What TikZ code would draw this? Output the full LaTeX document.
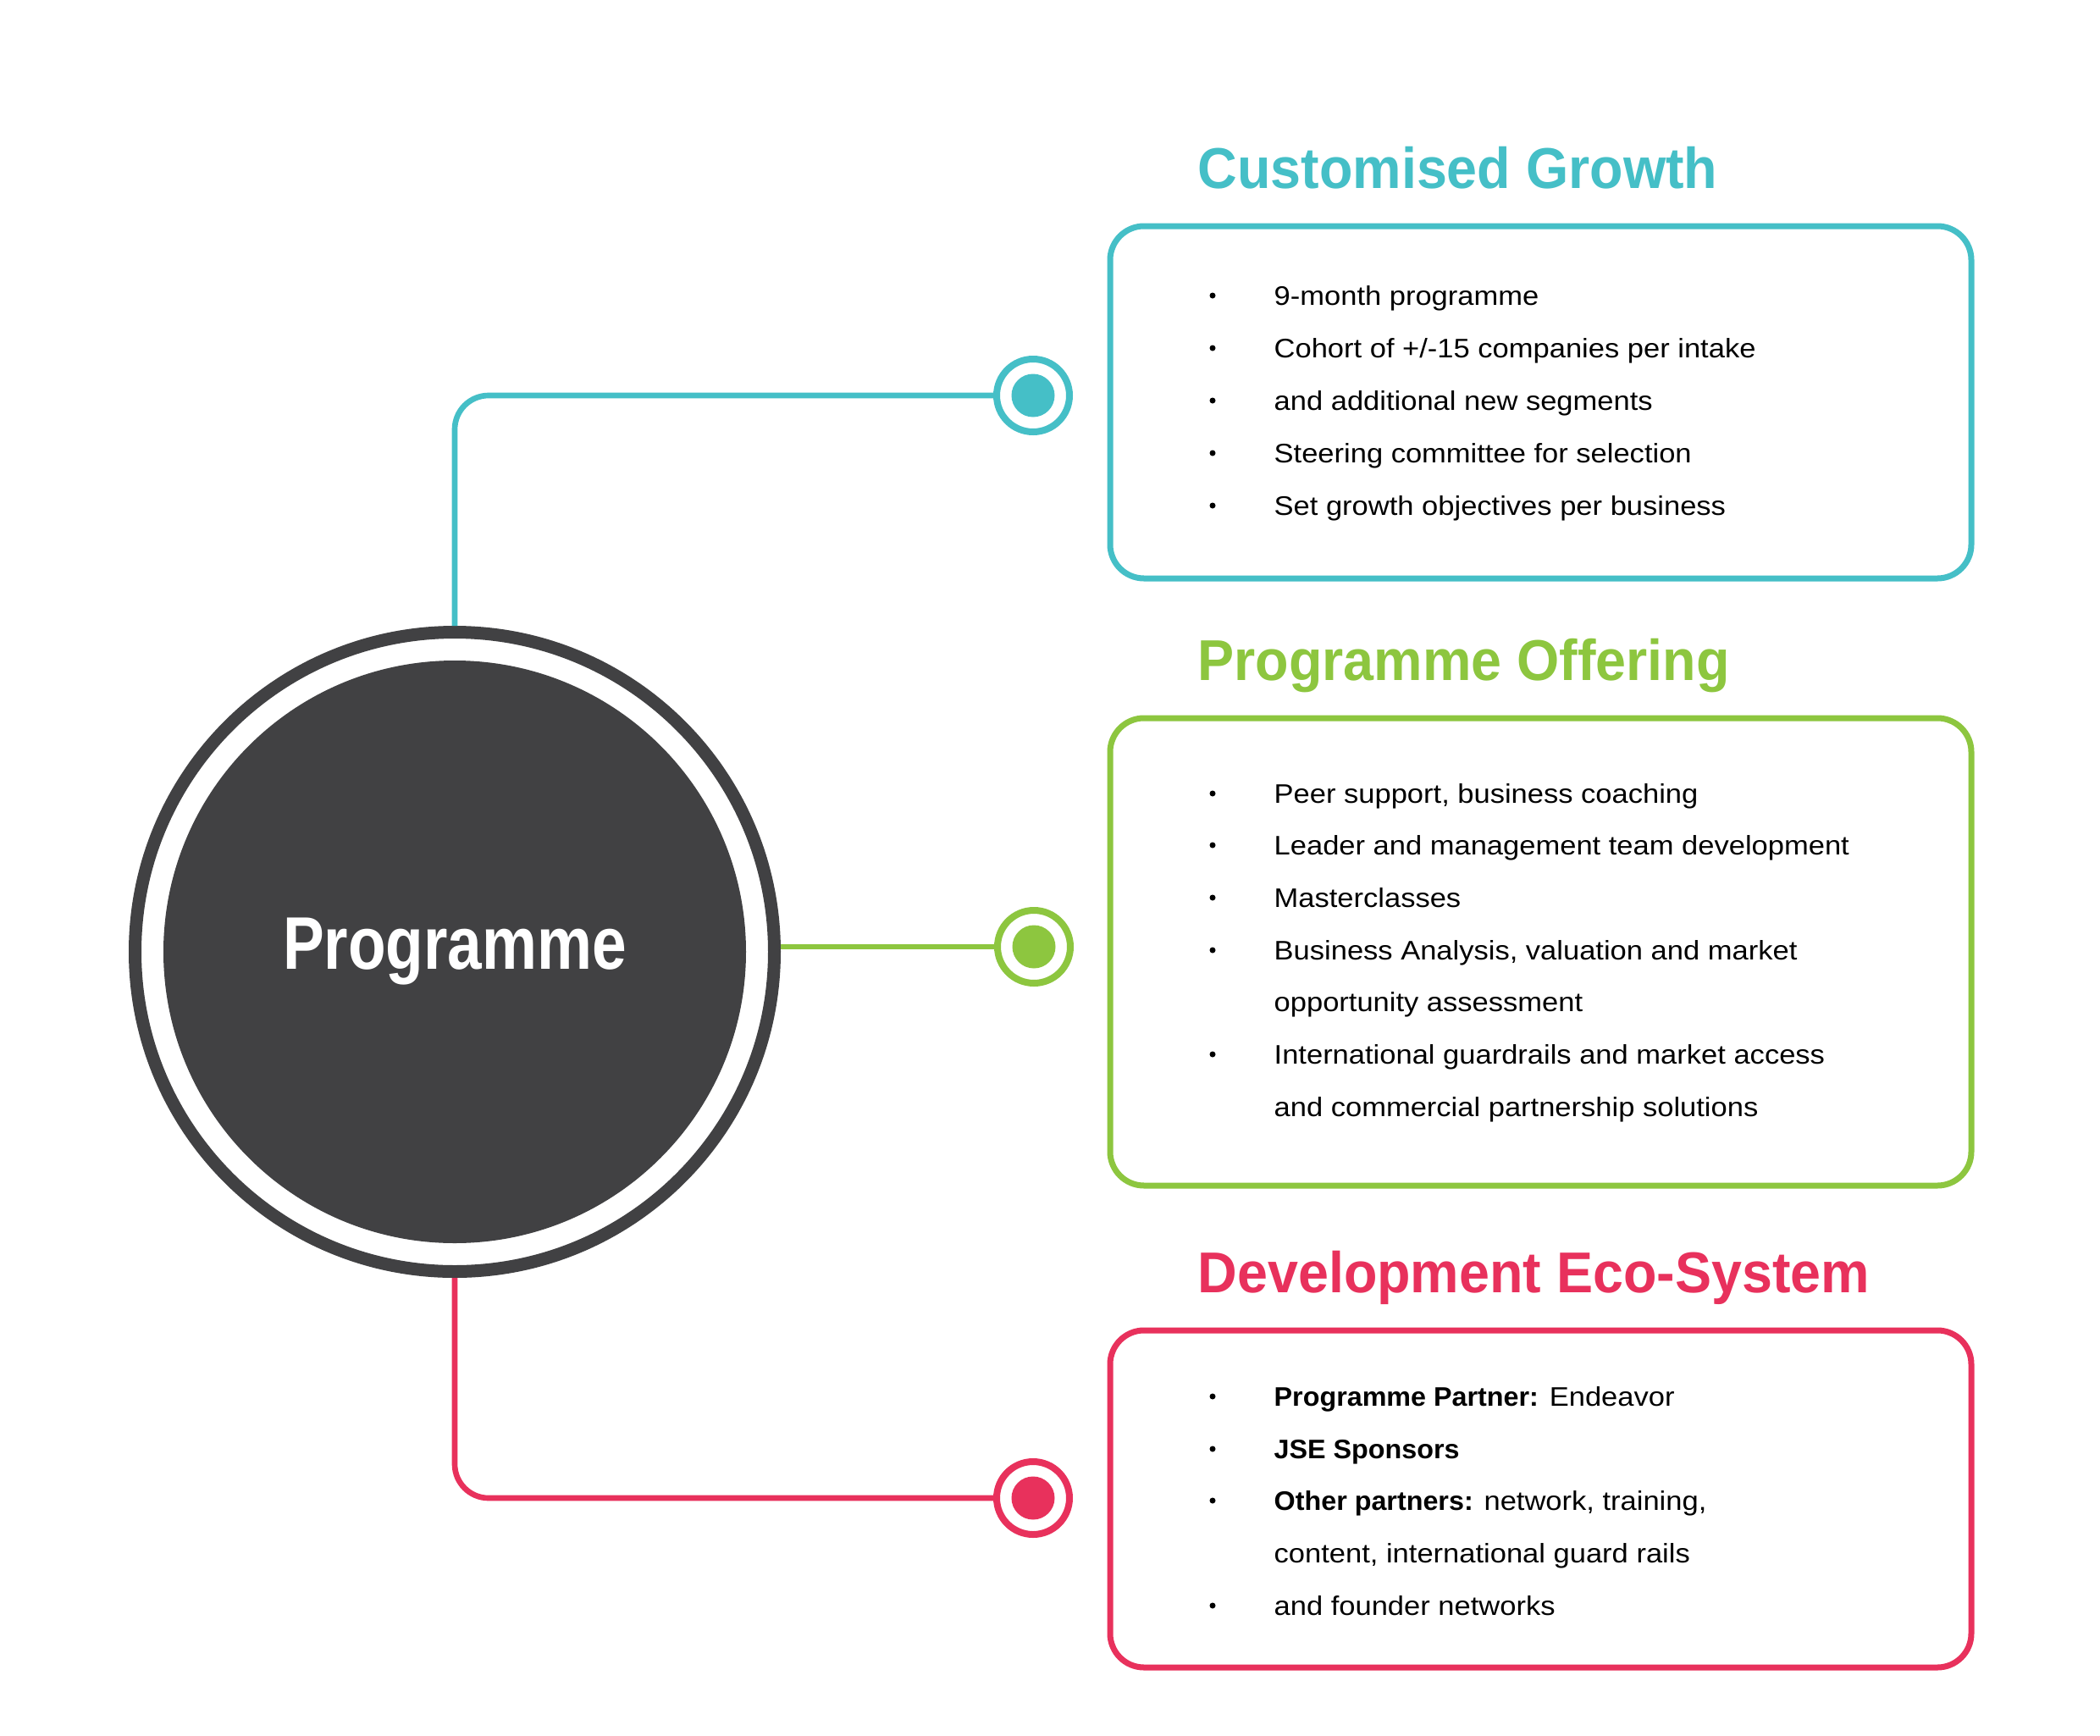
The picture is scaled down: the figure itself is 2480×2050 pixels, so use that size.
\documentclass[tikz,border=0pt]{standalone}
\usepackage{fontspec}
\setmainfont{Liberation Sans}
\newfontfamily\bodyfont[FakeStretch=1.09]{Liberation Sans}
\newfontfamily\bodyboldfont[FakeStretch=1.02]{Liberation Sans}
\newfontfamily\headfont[FakeStretch=0.95]{Liberation Sans}
\newfontfamily\circfont[FakeStretch=0.83]{Liberation Sans}
\newcommand{\bb}[1]{{\bodyboldfont\bfseries #1}}
\definecolor{tealc}{HTML}{45BFC7}
\definecolor{greenc}{HTML}{8DC63F}
\definecolor{redc}{HTML}{E8315C}
\definecolor{darkc}{HTML}{414143}
\tikzset{
  conn/.style={line width=2pt, rounded corners=12pt},
  ringnode/.style={circle, draw=#1, line width=2.4pt, minimum size=25.8pt, inner sep=0pt, fill=white},
  dotnode/.style={circle, fill=#1, minimum size=15.3pt, inner sep=0pt},
  boxpath/.style={draw=#1, line width=2.1pt, rounded corners=12pt},
  headtext/.style={text=#1, anchor=base west, inner sep=0pt, font=\headfont\bfseries\fontsize{20.4pt}{24pt}\selectfont},
  bodytext/.style={anchor=base west, inner sep=0pt, text=black, font=\bodyfont\fontsize{9.5pt}{11pt}\selectfont},
  bul/.style={circle, fill=black, minimum size=2.1pt, inner sep=0pt}
}
\begin{document}
\begin{tikzpicture}[x=0.3pt,y=-0.3pt]
\useasboundingbox[fill=white] (0,0) rectangle (2480,2050);

% central circle
\node[circle, draw=darkc, line width=4.5pt, minimum size=226.5pt, inner sep=0pt] (progring) at (537,1124) {};
\node[circle, fill=darkc, minimum size=206.4pt, inner sep=0pt, text=white,
      font=\circfont\bfseries\fontsize{26.4pt}{30pt}\selectfont] (prog) at (progring.center) {Programme};

% end rings
\node[ringnode=tealc] (tring) at (1220,467) {};
\node[dotnode=tealc] (tdot) at (tring.center) {};
\node[ringnode=greenc] (gring) at (1221,1118) {};
\node[dotnode=greenc] (gdot) at (gring.center) {};
\node[ringnode=redc] (rring) at (1220,1769) {};
\node[dotnode=redc] (rdot) at (rring.center) {};

% connectors
\draw[conn, tealc] (progring.north) |- (tring.west);
\draw[conn, greenc] (progring.east |- gring.west) -- (gring.west);
\draw[conn, redc] (progring.south) |- (rring.west);

% boxes
\draw[boxpath=tealc] (1311,267) rectangle (2328,683);
\draw[boxpath=greenc] (1311,848) rectangle (2328,1400);
\draw[boxpath=redc] (1311,1571) rectangle (2328,1969);

% titles
\node[headtext=tealc] (thead) at (1414,222) {Customised Growth};
\node[headtext=greenc] (ghead) at (1414,803) {Programme Offering};
\node[headtext=redc] (rhead) at (1414,1526) {Development Eco-System};

% teal text
\node[bul] (tb1) at (1432,349) {};
\node[bodytext] (t1) at (1504,360) {9-month programme};
\node[bul] (tb2) at (1432,411) {};
\node[bodytext] (t2) at (1504,422) {Cohort of +/-15 companies per intake};
\node[bul] (tb3) at (1432,473) {};
\node[bodytext] (t3) at (1504,484) {and additional new segments};
\node[bul] (tb4) at (1432,535) {};
\node[bodytext] (t4) at (1504,546) {Steering committee for selection};
\node[bul] (tb5) at (1432,597) {};
\node[bodytext] (t5) at (1504,608) {Set growth objectives per business};

% green text
\node[bul] (gb1) at (1432,937) {};
\node[bodytext] (g1) at (1504,948) {Peer support, business coaching};
\node[bul] (gb2) at (1432,998) {};
\node[bodytext] (g2) at (1504,1009) {Leader and management team development};
\node[bul] (gb3) at (1432,1060) {};
\node[bodytext] (g3) at (1504,1071) {Masterclasses};
\node[bul] (gb4) at (1432,1122) {};
\node[bodytext] (g4) at (1504,1133) {Business Analysis, valuation and market};
\node[bodytext] (g5) at (1504,1194) {opportunity assessment};
\node[bul] (gb6) at (1432,1245) {};
\node[bodytext] (g6) at (1504,1256) {International guardrails and market access};
\node[bodytext] (g7) at (1504,1318) {and commercial partnership solutions};

% red text
\node[bul] (rb1) at (1432,1649) {};
\node[bodytext] (r1) at (1504,1660) {\bb{Programme Partner:} Endeavor};
\node[bul] (rb2) at (1432,1711) {};
\node[bodytext] (r2) at (1504,1722) {\bb{JSE Sponsors}};
\node[bul] (rb3) at (1432,1772) {};
\node[bodytext] (r3) at (1504,1783) {\bb{Other partners:} network, training,};
\node[bodytext] (r4) at (1504,1845) {content, international guard rails};
\node[bul] (rb5) at (1432,1896) {};
\node[bodytext] (r5) at (1504,1907) {and founder networks};
\end{tikzpicture}
\end{document}
